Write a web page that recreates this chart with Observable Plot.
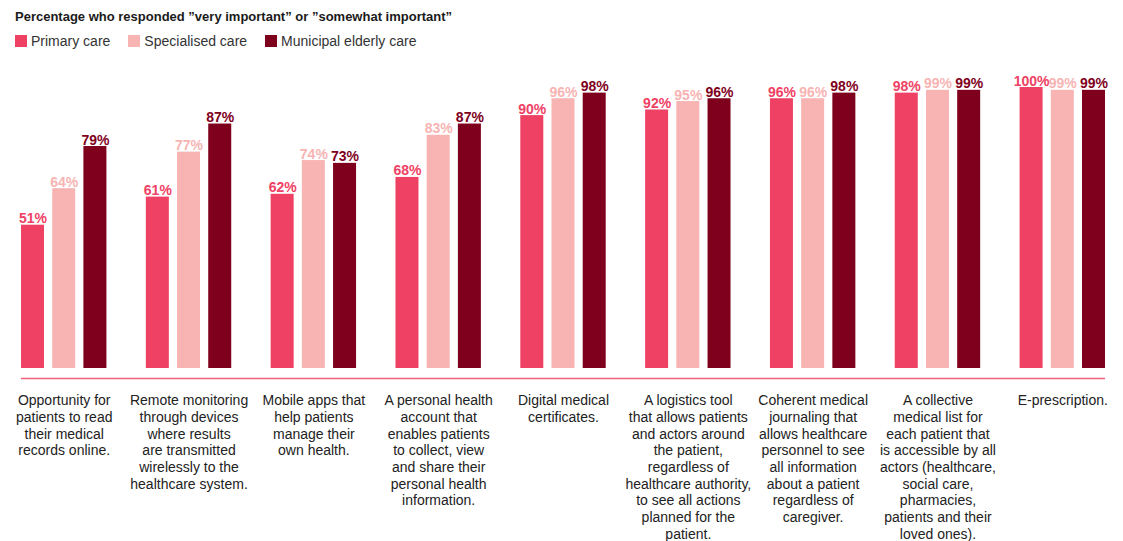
<!DOCTYPE html>
<html>
<head>
<meta charset="utf-8">
<script src="https://cdn.jsdelivr.net/npm/d3@7"></script>
<script src="https://cdn.jsdelivr.net/npm/@observablehq/plot@0.6"></script>
<style>
  body { margin: 0; background: #fff; font-family: "Liberation Sans", Arial, sans-serif; }
  #header { height: 55px; position: relative; }
  #title { position: absolute; left: 15px; top: 9px; font-size: 13px; font-weight: bold; color: #1a1a1a; line-height: 16px; }
  #legend { position: absolute; left: 15px; top: 33px; display: flex; font-size: 14px; color: #333; line-height: 16px; }
  .item { display: flex; align-items: center; margin-right: 18px; }
  .sw { width: 12px; height: 12px; margin-right: 4px; display: inline-block; }
</style>
</head>
<body>
<div id="header">
  <div id="title">Percentage who responded ”very important” or ”somewhat important”</div>
  <div id="legend"></div>
</div>
<div id="chart"></div>
<script>
const seriesNames = ["Primary care", "Specialised care", "Municipal elderly care"];
const seriesColors = ["#EF4164", "#F7B4B3", "#7F001C"];

const categories = [
  ["Opportunity for", "patients to read", "their medical", "records online."],
  ["Remote monitoring", "through devices", "where results", "are transmitted", "wirelessly to the", "healthcare system."],
  ["Mobile apps that", "help patients", "manage their", "own health."],
  ["A personal health", "account that", "enables patients", "to collect, view", "and share their", "personal health", "information."],
  ["Digital medical", "certificates."],
  ["A logistics tool", "that allows patients", "and actors around", "the patient,", "regardless of", "healthcare authority,", "to see all actions", "planned for the", "patient."],
  ["Coherent medical", "journaling that", "allows healthcare", "personnel to see", "all information", "about a patient", "regardless of", "caregiver."],
  ["A collective", "medical list for", "each patient that", "is accessible by all", "actors (healthcare,", "social care,", "pharmacies,", "patients and their", "loved ones)."],
  ["E-prescription."]
];

const primaryCare     = [51, 61, 62, 68, 90, 92, 96, 98, 100];
const specialisedCare = [64, 77, 74, 83, 96, 95, 96, 99, 99];
const municipalCare   = [79, 87, 73, 87, 98, 96, 98, 99, 99];

// Legend
const legend = document.getElementById("legend");
seriesNames.forEach((s, i) => {
  const it = document.createElement("div");
  it.className = "item";
  it.innerHTML = `<span class="sw" style="background:${seriesColors[i]}"></span><span>${s}</span>`;
  legend.appendChild(it);
});

// Tidy data
const seriesValues = [primaryCare, specialisedCare, municipalCare];
const data = [];
categories.forEach((c, i) => {
  seriesNames.forEach((s, j) => {
    data.push({key: `${i}|${j}`, series: s, value: seriesValues[j][i]});
  });
});

// x domain: three bars per category plus one spacer between groups
const xDomain = [];
categories.forEach((c, i) => {
  for (let j = 0; j < 3; j++) xDomain.push(`${i}|${j}`);
  if (i < categories.length - 1) xDomain.push(`${i}|gap`);
});

const labels = categories.map((lines, i) => ({key: `${i}|1`, text: lines.join("\n")}));

const chart = Plot.plot({
  width: 1123,
  height: 486,
  marginLeft: 21,
  marginRight: 18,
  marginTop: 32,
  marginBottom: 173,
  style: {fontFamily: "'Liberation Sans', Arial, sans-serif", background: "#fff"},
  x: {type: "band", domain: xDomain, paddingInner: 0.263, paddingOuter: 0, round: false, axis: null},
  y: {domain: [0, 100], axis: null},
  color: {domain: seriesNames, range: seriesColors},
  marks: [
    Plot.barY(data, {x: "key", y: "value", fill: "series"}),
    Plot.text(data, {x: "key", y: "value", text: d => d.value + "%", fill: "series",
      lineAnchor: "bottom", dy: -2, fontSize: 14, fontWeight: "bold"}),
    Plot.ruleY([0], {dy: 10, stroke: "#F0607C", strokeWidth: 1.3}),
    Plot.text(labels, {x: "key", y: () => 0, text: "text", lineAnchor: "top", dy: 25,
      fontSize: 14, lineHeight: 1.19, fill: "#222"})
  ]
});
document.getElementById("chart").appendChild(chart);
</script>
</body>
</html>
